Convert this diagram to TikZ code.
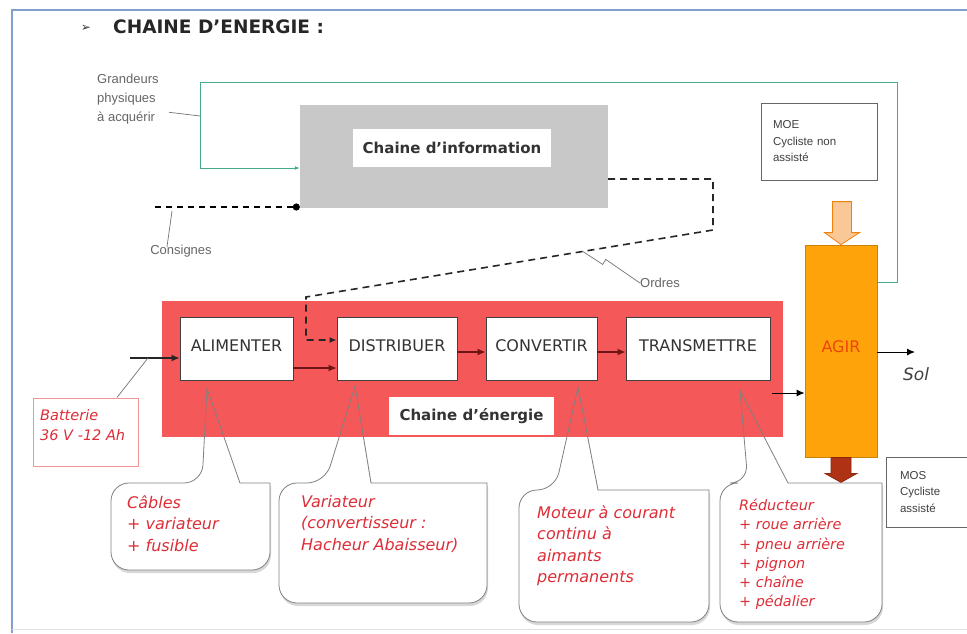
\documentclass[tikz,border=0pt]{standalone}
\usepackage{fontspec}
\setmainfont{DejaVu Sans}
\newfontfamily\arial{Liberation Sans}
\usetikzlibrary{arrows.meta,shadows,calc}
\pgfdeclarelayer{background}
\pgfsetlayers{background,main}

\definecolor{rouge}{RGB}{245,88,88}
\definecolor{orangeagir}{RGB}{255,163,10}
\definecolor{agirtexte}{RGB}{238,70,10}
\definecolor{vert}{RGB}{70,170,140}
\definecolor{gris}{RGB}{200,200,200}
\definecolor{cadre}{RGB}{130,160,205}
\definecolor{texterouge}{RGB}{222,45,55}
\definecolor{peche}{RGB}{250,200,150}
\definecolor{brun}{RGB}{175,50,20}
\definecolor{flecherouge}{RGB}{110,20,20}
\definecolor{batcadre}{RGB}{240,150,150}

\tikzset{
  fonction/.style={draw=black!75, fill=white, line width=0.8pt, minimum height=63pt, inner sep=0pt,
    font=\fontsize{16}{19}\selectfont, text=black!80},
  etiquette/.style={fill=white, inner sep=0pt, font=\bfseries\fontsize{15}{18}\selectfont, text=black!80},
  bulle/.style={draw=black!50, line width=0.8pt},
  texbulle/.style={anchor=north west, align=left, inner sep=0pt, text=texterouge,
    font=\itshape\fontsize{16}{21.5}\selectfont},
  renvoi/.style={draw=black!55, line width=0.7pt},
  grisnote/.style={inner sep=0pt, align=left, text=black!60, font=\arial\fontsize{13}{19}\selectfont},
  matiere/.style={draw=black!60, fill=white, line width=0.8pt, align=left, inner xsep=0pt,
    font=\arial\fontsize{11.5}{16.5}\selectfont, text=black!75},
  fleche/.style={-{Latex[length=8pt,width=7pt]}, line width=1.4pt, draw=flecherouge},
}

% contour d'une bulle : gauche, haut, droite, bas, pied gauche, pied droit, pointe
\newcommand{\cheminbulle}[7]{({(#1+#3)/2},#4) [rounded corners=18pt] -- (#1,#4) -- (#1,#2) -- (#5,#2)
  [sharp corners] -- (#7) -- (#6,#2) -- (#3,#2) [rounded corners=18pt] -- (#3,#4) -- cycle}
\newcommand{\bulle}[7]{%
  \begin{pgfonlayer}{background}
    \fill[white, drop shadow={opacity=.3, shadow xshift=1pt, shadow yshift=-3pt}] \cheminbulle{#1}{#2}{#3}{#4}{#5}{#6}{#7};
  \end{pgfonlayer}
  \draw[bulle] \cheminbulle{#1}{#2}{#3}{#4}{#5}{#6}{#7};}

\begin{document}
\begin{tikzpicture}[x=1pt,y=-1pt]
  %%%%% START %%%%%
  \clip (0,0) rectangle (967,633);
  \begin{pgfonlayer}{background}
    \fill[white] (0,0) rectangle (967,633);
  \end{pgfonlayer}

  % cadre et titre
  \draw[cadre, line width=1.2pt] (12,633) -- (12,10) -- (967,10);
  \draw[black!12, line width=1pt] (12,629) -- (967,629);
  \node[inner sep=0pt, font=\fontsize{12}{12}\selectfont, text=black!80] (puce) at (86,28) {➢};
  \node[anchor=west, inner sep=0pt, font=\bfseries\fontsize{18.5}{22}\selectfont, text=black!85] (titre) at (113,27) {CHAINE D'ENERGIE :};

  % chaine d'information
  \node[fill=gris, minimum width=308pt, minimum height=103pt] (info) at (454,156.5) {};
  \node[etiquette, minimum width=198pt, minimum height=38pt] (infolab) at (452,148) {Chaine d'information};

  % chaine d'energie
  \fill[rouge] (162,301) rectangle (783,437);
  \node[fonction, minimum width=113pt] (alim) at (236.5,348.5) {\raisebox{6pt}{ALIMENTER}};
  \node[fonction, minimum width=120pt] (dist) at (397,349) {\raisebox{6pt}{DISTRIBUER}};
  \node[fonction, minimum width=111pt] (conv) at (541.5,348.5) {\raisebox{6pt}{CONVERTIR}};
  \node[fonction, minimum width=144pt] (trans) at (698,348.5) {\raisebox{6pt}{TRANSMETTRE}};
  \node[etiquette, minimum width=165pt, minimum height=38pt] (enlab) at (471.5,416) {Chaine d'énergie};

  \draw[fleche] ([yshift=-19.5pt]alim.east) -- ([yshift=-19.5pt]alim.east -| dist.west);
  \draw[fleche] ([yshift=-3pt]dist.east) -- ([yshift=-3pt]dist.east -| conv.west);
  \draw[fleche] ([yshift=-3.5pt]conv.east) -- ([yshift=-3.5pt]conv.east -| trans.west);

  % agir
  \node[fill=orangeagir, draw=orangeagir!80!black, line width=0.8pt, minimum width=72pt, minimum height=212pt,
    inner sep=0pt, text=agirtexte, font=\fontsize{16}{19}\selectfont] (agir) at (841,351) {\raisebox{8pt}{AGIR}};
  \draw[fill=peche, draw=orange!80!brown, line width=0.8pt] (agir.north) -- ++(-16.5,-12) -- ++(8,0) -- ++(0,-31)
    -- ++(19,0) -- ++(0,31) -- ++(8,0) -- cycle;
  \draw[fill=brun, draw=brun!80!black, line width=0.8pt] ([xshift=-10pt]agir.south) -- ++(0,16) -- ++(-6,0)
    -- ++(16,9) -- ++(16,-9) -- ++(-6,0) -- ++(0,-16) -- cycle;

  \coordinate (tout) at (772,393);
  \draw[fleche, draw=black, line width=1pt] (tout) -- (tout -| agir.west);
  \coordinate (sol) at (915,352);
  \draw[fleche, draw=black, line width=1pt] (agir.east |- sol) -- (sol);
  \node[inner sep=0pt, font=\itshape\fontsize{17}{20}\selectfont, text=black!75] (soltxt) at (916,374) {Sol};

  \node[matiere, minimum width=116pt, minimum height=77pt, text width=92pt] (moe) at (819,141.5) {MOE\\Cycliste non\\assisté};
  \node[matiere, minimum width=104pt, minimum height=70pt, text width=76pt] (mos) at (938,492) {MOS\\Cycliste\\assisté};

  % grandeurs physiques
  \coordinate (g1) at (897,82);
  \coordinate (g2) at (200,82);
  \draw[vert, line width=1pt, -{Latex[length=5pt,width=4pt]}] ([yshift=69pt]agir.east) -| (g1) -- (g2)
    |- ([yshift=-11.5pt]info.west);
  \node[grisnote, anchor=north west] (grand) at (97,74) {Grandeurs\\physiques\\à acquérir};
  \coordinate (gv) at (200,116);
  \draw[renvoi] ([xshift=10pt,yshift=-13pt]grand.east) -- (gv);

  % consignes
  \coordinate (cons) at (155,207);
  \draw[line width=2.2pt, dash pattern=on 6pt off 5pt, -{Circle[length=7pt]}] (cons) -- (cons -| info.west);
  \node[grisnote] (conslab) at (181,251) {Consignes};
  \draw[renvoi] ([xshift=-14pt,yshift=-2pt]conslab.north) -- ([xshift=17pt,yshift=-4pt]cons);

  % ordres
  \coordinate (o1) at (713,230);
  \coordinate (o2) at (306,297);
  \draw[line width=1.6pt, dash pattern=on 7pt off 5pt, black!85, -{Latex[length=7pt,width=6pt]}]
    ([yshift=-22.5pt]info.east) -| (o1) -- (o2) |- ([yshift=9pt]dist.west);
  \node[grisnote] (ordres) at (660,283) {Ordres};
  \coordinate (o3) at ($(o1)!0.32!(o2)$);
  \draw[renvoi] (o3) -- ++(20,13) -- ++(3,-5) -- (ordres.west);

  % batterie
  \node[draw=batcadre, line width=1pt, minimum width=105pt, minimum height=68pt] (bat) at (85.5,432) {};
  \node[texbulle, font=\itshape\fontsize{14.5}{20}\selectfont] (battxt) at (40,409) {Batterie\\36 V -12 Ah};
  \coordinate (batin) at (130,358);
  \draw[fleche, draw=black!85] (batin) -- (batin -| alim.west);
  \draw[renvoi] ([xshift=31.5pt]bat.north) -- ([xshift=18pt]batin);

  % bulles
  \bulle{111}{483}{270}{570}{202}{240}{[xshift=-29.5pt,yshift=-8pt]alim.south}
  \bulle{279}{483}{487}{603}{325}{371}{[xshift=-42pt,yshift=-5pt]dist.south}
  \bulle{519}{490}{709}{622}{555}{598}{[xshift=36.5pt,yshift=-7pt]conv.south}
  \bulle{720}{483}{882}{622}{748}{788}{[xshift=42pt,yshift=-10pt]trans.south}

  \node[texbulle] (cables) at (127,495) {Câbles\\+ variateur\\+ fusible};
  \node[texbulle] (variat) at (301,495) {Variateur\\(convertisseur :\\Hacheur Abaisseur)};
  \node[texbulle] (moteur) at (537,505) {Moteur à courant\\continu à\\aimants\\permanents};
  \node[texbulle, font=\itshape\fontsize{14.4}{19.2}\selectfont] (reduc) at (739,499)
    {Réducteur\\+ roue arrière\\+ pneu arrière\\+ pignon\\+ chaîne\\+ pédalier};
  %%%%% END %%%%%
\end{tikzpicture}
\end{document}
